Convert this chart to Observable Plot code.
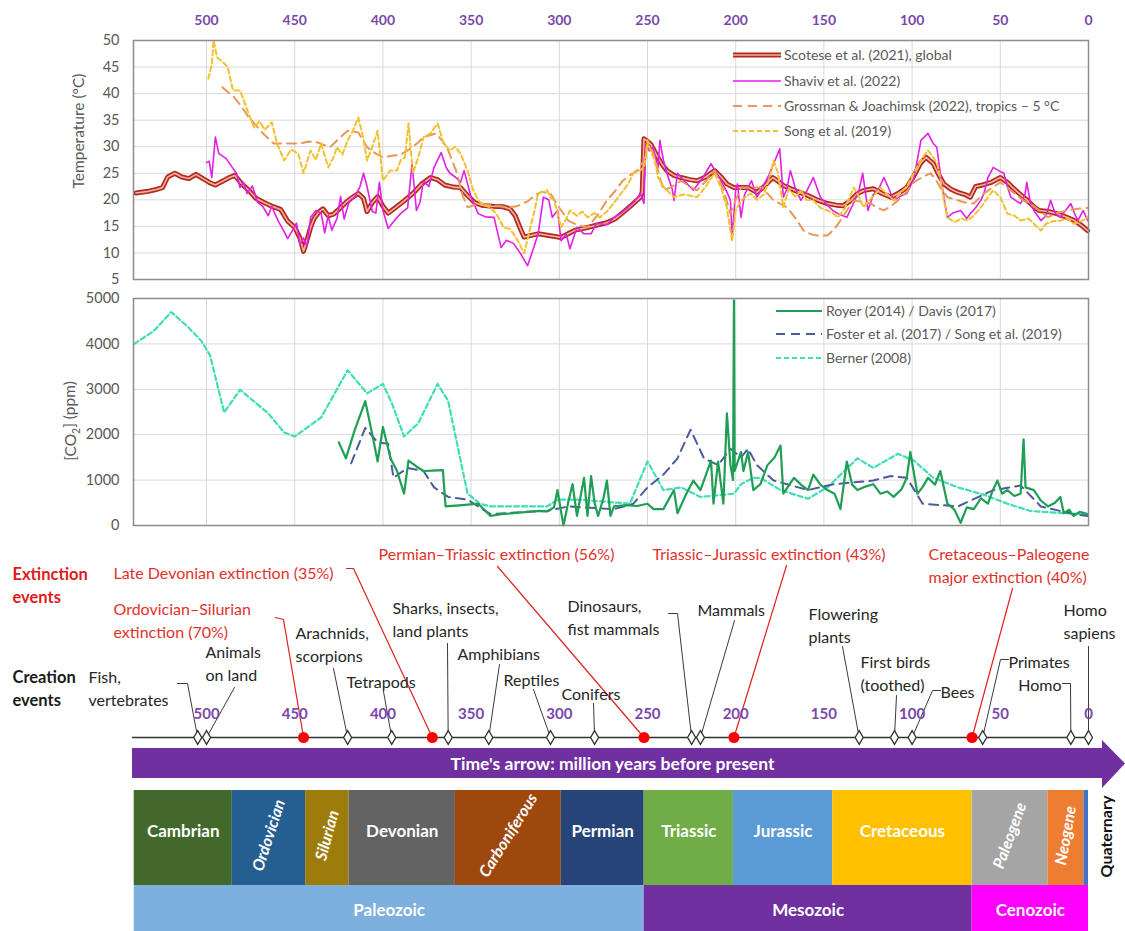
<!DOCTYPE html>
<html>
<head>
<meta charset="utf-8">
<script src="https://cdn.jsdelivr.net/npm/d3@7"></script>
<script src="https://cdn.jsdelivr.net/npm/@observablehq/plot@0.6"></script>
<style>
  html, body { margin: 0; padding: 0; background: #fff; overflow: hidden; }
  #wrap { position: relative; width: 1125px; height: 931px; overflow: hidden; background: #fff; }
  #wrap svg { position: absolute; left: 0; }
</style>
</head>
<body>
<div id="wrap"></div>
<script>
// ---------------- DATA ----------------
const xTicks = [0, 50, 100, 150, 200, 250, 300, 350, 400, 450, 500];
const tempTicks = [5, 10, 15, 20, 25, 30, 35, 40, 45, 50];
const co2Ticks = [0, 1000, 2000, 3000, 4000, 5000];

// Temperature (°C) series, [Ma, value]
const scotese = [[540,21.3],[533,21.6],[528,22.0],[525,22.3],[522,24.3],[518,25.0],[514,24.3],[510,24.0],[506,24.8],[502,24.0],[498,23.2],[495,22.8],[491,23.5],[487,24.2],[484,24.6],[480,23.0],[476,21.8],[472,20.3],[468,19.6],[463,18.8],[458,18.2],[454,16.0],[450,14.8],[447,12.8],[445,10.3],[443,12.5],[441,14.8],[439,16.5],[436,17.8],[434,18.3],[431,17.0],[428,17.3],[425,18.2],[421,19.5],[418,20.3],[414,21.2],[411,20.3],[409,17.8],[406,19.5],[403,20.6],[400,18.8],[397,17.5],[393,18.5],[388,19.8],[383,21.2],[378,23.0],[373,24.2],[369,23.8],[365,22.8],[360,22.4],[356,22.3],[352,20.8],[348,19.5],[344,19.0],[338,18.8],[332,18.7],[328,18.3],[325,17.0],[322,14.5],[320,13.0],[316,13.3],[312,13.6],[306,13.3],[299,12.9],[295,13.6],[291,14.3],[284,14.8],[278,15.3],[273,15.7],[268,16.5],[264,17.6],[259,19.0],[254,20.5],[253,21.5],[252,31.5],[250,31.0],[248,30.4],[245,28.5],[242,26.8],[239,25.5],[235,24.6],[231,24.2],[226,23.8],[222,23.6],[217,24.3],[212,25.5],[208,24.2],[205,23.0],[201,22.3],[197,22.3],[193,22.3],[188,21.4],[184,22.5],[179,24.2],[176,23.5],[173,22.7],[168,22.0],[163,21.3],[159,20.8],[154,20.0],[148,19.3],[143,19.0],[139,18.9],[135,19.8],[131,21.2],[127,21.8],[122,22.1],[117,21.2],[112,20.5],[108,21.2],[103,22.3],[99,24.5],[95,27.0],[92,28.0],[88,26.8],[85,24.8],[82,23.0],[78,22.0],[74,21.4],[70,21.0],[67,20.5],[64,22.5],[60,22.8],[55,23.3],[50,24.2],[46,23.3],[43,22.3],[40,21.4],[35,20.0],[31,18.7],[28,18.0],[23,17.8],[18,17.4],[13,16.8],[8,16.1],[4,15.2],[0.5,14.2]];

const shaviv = [[500,27.0],[498.5,27.3],[497,24.2],[495,31.8],[493,28.7],[489,27.8],[486,26.4],[483,25.0],[481,22.3],[479,23.3],[477,21.2],[474,22.6],[471,19.5],[468,18.7],[465,17.0],[463,18.8],[461,17.2],[459,15.8],[456,14.0],[454,12.7],[451,14.4],[449,15.6],[447,11.6],[445,12.8],[443,11.2],[441,16.7],[438,18.0],[435,17.5],[433,13.8],[431,17.0],[429,14.3],[426,16.5],[424,20.6],[422,16.4],[419,19.8],[416,20.5],[413,22.5],[411,25.0],[409,22.5],[406,17.8],[404,17.5],[402,23.3],[400,18.0],[397,14.6],[393,16.3],[390,17.4],[386,18.5],[383.5,26.8],[381,18.0],[379,19.5],[377,23.6],[374,22.5],[371,26.1],[367,28.9],[364,26.0],[362,25.0],[359,24.3],[356,23.3],[354,25.5],[350,20.5],[346,17.4],[342,16.8],[337,16.7],[333,11.0],[330,12.4],[326,11.8],[322,9.9],[318,7.6],[315,10.5],[312,13.6],[309,20.5],[306,20.0],[304,16.7],[301,18.0],[299,12.3],[296,13.5],[294,10.8],[290,14.8],[286,13.6],[282,13.6],[279,15.5],[277,15.5],[273,15.3],[269,16.7],[265,17.5],[261,18.6],[257,19.8],[254,21.2],[252,19.3],[251,30.6],[249,29.2],[247,29.9],[244,26.1],[243,31.2],[241,27.5],[239,25.0],[236,22.0],[235,19.9],[233,25.0],[229,23.5],[224,21.8],[219,24.0],[214,26.8],[209,24.0],[205,21.5],[203,19.9],[202,12.9],[200,22.0],[199,23.0],[197,16.7],[195,21.0],[193,22.3],[191,23.6],[188,20.5],[184,22.8],[181,24.8],[178.5,26.8],[175,29.6],[173,20.5],[171,22.0],[169,25.5],[166,22.0],[163,19.9],[160,21.5],[156,24.2],[152,20.5],[148,19.0],[145,18.0],[142,17.4],[137,16.7],[133,19.5],[130,22.0],[128,25.0],[125,18.0],[122,21.0],[119,22.0],[116,24.2],[113,22.0],[110.5,19.9],[106,20.8],[103,21.2],[99,24.0],[95,31.2],[91,32.5],[88,30.6],[86,29.9],[84,25.0],[82,20.5],[80,16.7],[77,17.5],[72.5,18.0],[69,16.5],[67,17.4],[64,18.5],[61,19.9],[59,21.5],[57,24.2],[54,26.1],[51,25.5],[48,25.0],[46,22.5],[44,20.5],[41,19.8],[38.5,19.3],[36,21.0],[35,23.3],[33,19.5],[31,18.0],[27,16.1],[24,17.0],[21.5,19.9],[19,17.5],[16,16.7],[13,18.0],[10,19.3],[8,17.5],[6,16.1],[3,18.0],[0.5,16.1]];

const grossman = [[491,41.2],[488,40.3],[485,39.6],[480,37.5],[476,35.5],[473,34.4],[468,32.5],[462,30.6],[455,30.6],[447,30.6],[442,31.0],[437,30.8],[430,29.9],[425,31.5],[420,33.0],[414,32.7],[409,29.9],[404,28.7],[400,28.0],[395,28.3],[390,28.5],[385,29.5],[380,30.8],[377,31.8],[370,32.5],[366,31.0],[363,29.3],[358,25.0],[355,21.0],[352,18.6],[348,19.0],[345,19.3],[338,19.0],[329,18.6],[324,18.8],[318,19.7],[314,20.8],[310,21.5],[305,21.2],[300,18.5],[295,16.1],[290,15.3],[284,14.8],[278,17.3],[273,19.9],[268,21.8],[264,23.6],[260,24.6],[256,25.5],[252,27.4],[250,30.6],[247,29.0],[244,25.5],[241,21.8],[236,22.5],[231,23.6],[226,22.5],[222,21.8],[217,23.5],[212,25.5],[207,22.0],[203,17.4],[200,20.0],[197,22.3],[191,22.3],[185,22.3],[178.5,19.9],[171,18.6],[166,16.5],[161.5,14.2],[157,13.5],[154,13.3],[148,13.3],[144,14.5],[140.6,16.1],[137,18.0],[133,19.9],[128,19.6],[123.6,19.3],[120,18.6],[116,18.0],[112,18.8],[108,19.9],[103,21.5],[99,23.3],[94,24.3],[89.6,25.0],[87,24.0],[84,22.3],[80,20.5],[75,20.0],[70,19.5],[65,19.3],[60,21.0],[55,22.2],[50,23.3],[45,22.0],[41,21.0],[37,19.9],[32,19.0],[27,17.8],[23,16.7],[18,17.5],[12,18.0],[6,18.3],[0.5,18.5]];

const song = [[499,42.8],[497,45.5],[496,50.0],[494,46.8],[491,46.0],[488,45.0],[485,40.6],[481,40.6],[477,37.0],[473,33.6],[470,34.8],[467,33.2],[463,34.6],[460,30.6],[456,27.4],[452,29.5],[448,28.7],[445,25.0],[441,29.3],[438,27.5],[435,30.6],[431,26.1],[428,28.0],[426,29.9],[423,28.5],[420,31.2],[417,33.0],[414,35.5],[411,31.5],[409,27.4],[406,30.0],[403,33.0],[400,23.6],[396,25.5],[392,25.5],[390,27.4],[387.5,28.0],[385.5,34.4],[383,25.0],[380,28.0],[377,31.8],[373,32.5],[369,34.4],[365.6,30.6],[362,29.3],[359,30.0],[356,28.7],[352,25.5],[349,22.0],[346,19.9],[343,19.0],[339,18.6],[335,17.0],[331.6,14.8],[328,14.5],[326,13.6],[323,12.0],[320,9.9],[317,14.0],[314,18.0],[312,21.2],[309,21.5],[307,21.8],[305,20.5],[303,19.9],[301,17.5],[299,14.8],[296,16.5],[294,18.0],[290,17.0],[287,17.8],[284,16.7],[280,17.5],[277,16.7],[273,17.8],[270,19.0],[265,21.2],[261,23.0],[258,25.0],[254,25.6],[252,26.1],[251,28.0],[250,31.2],[248,29.0],[246,27.5],[244,24.2],[241,22.5],[238,21.5],[235,20.5],[230,21.0],[226,20.8],[222,20.5],[217,22.5],[212,25.0],[208,22.0],[205,18.5],[203,14.2],[202,12.3],[200,18.0],[197,19.9],[191.6,21.2],[188,20.0],[184,21.0],[181,24.0],[178.5,27.4],[176,25.0],[173,18.6],[170,22.0],[166,20.5],[163,21.8],[160,20.0],[156,19.9],[152,18.5],[148,18.0],[145,17.5],[142,16.7],[138,18.5],[133,22.3],[130,20.5],[127.5,18.6],[124,20.0],[121,21.0],[118,22.3],[114,21.0],[110.5,19.9],[106,21.5],[103,22.5],[99,25.0],[95,27.5],[91,29.3],[88,28.0],[86,27.0],[84,24.2],[82,20.0],[80,16.7],[76,15.8],[72,16.5],[68.6,16.1],[65,17.0],[61,18.6],[57,20.5],[54,21.8],[50,20.5],[46,17.4],[42,17.0],[38.5,16.1],[34,16.5],[31,15.5],[27,14.2],[24,15.5],[20,16.0],[16,16.1],[12,16.5],[8.5,15.5],[4,16.0],[0.5,16.7]];

// CO2 (ppm) series, [Ma, value]
const royer = [[425,1830],[421,1480],[416,2100],[410,2740],[406,2000],[403,1410],[400,2170],[395.7,1480],[392,1200],[388,700],[385.5,1430],[381,1300],[377,1200],[372,1210],[366,1220],[364.5,420],[355,450],[346,480],[339,210],[333,250],[326,270],[318,300],[312,320],[307,310],[303,400],[301,780],[299,300],[297.6,0],[295,500],[292.5,910],[290,210],[286,1050],[284,210],[282,1090],[280,500],[278,210],[275,600],[273,990],[271,210],[269,420],[262,450],[256,430],[250,480],[246.6,360],[241,360],[235,780],[233,270],[228,700],[224,990],[220,780],[214,1430],[212.6,480],[210,1410],[207,480],[205,2470],[203,1330],[201.5,1000],[201,4960],[200.6,1200],[197,1620],[195.6,1200],[193,1620],[190,780],[186,910],[182,1330],[178,1500],[174.6,1760],[173,700],[167,1050],[163,900],[159,780],[156,1120],[152,900],[148,780],[144,700],[140.6,360],[137,1410],[134,900],[131,780],[127,850],[122,910],[118,700],[114,750],[110.5,630],[106,800],[103,1050],[101,1620],[97,700],[94,850],[91,1050],[87,900],[84,1200],[80,480],[76,350],[72.5,60],[69,400],[65,360],[61,600],[57,480],[54,800],[51.6,990],[49,700],[46,780],[42,650],[38.5,700],[36.8,1900],[35.7,840],[31,780],[27,550],[23,420],[19,500],[16,630],[14,270],[11,350],[8.5,210],[5,300],[0.5,250]];

const foster = [[418,1370],[410,2150],[403,1830],[397,1800],[394,1050],[386,1270],[377,1200],[371,840],[363,630],[352,570],[339,250],[320,300],[307,320],[295,420],[269,360],[258,480],[250,840],[241,1120],[233,1480],[225.6,2110],[218,1480],[210,1330],[203,1690],[197,1500],[193,1690],[188,1330],[178.5,990],[159,780],[144.6,910],[122,990],[112,1090],[103,1050],[94,480],[74,420],[54,780],[38.5,880],[27,420],[8.5,250],[0.5,210]];

const berner = [[541,4000],[530,4280],[520,4700],[511,4390],[503,4070],[498,3750],[490,2490],[481,2990],[465,2470],[456,2050],[450,1960],[435,2380],[420,3420],[409,2910],[400,3120],[395,2700],[388,1960],[380,2250],[369,3120],[363,2740],[352,700],[345,480],[339,420],[307,420],[301,570],[288,570],[260,480],[250,1410],[241,780],[231,840],[220,630],[201,700],[197,910],[190,1050],[186,1050],[174.6,780],[159,590],[148,840],[131,1480],[122,1270],[108,1580],[99,1430],[88,1050],[74,840],[59.5,680],[46,480],[33,320],[17.6,280],[0.5,250]];

// Events
const creationNames = ["Fish,\nvertebrates","Animals\non land","Arachnids,\nscorpions","Tetrapods","Sharks, insects,\nland plants","Amphibians","Reptiles","Conifers","Dinosaurs,\nfist mammals","Mammals","Flowering\nplants","First birds\n(toothed)","Bees","Primates","Homo","Homo\nsapiens"];
const creationMa = [505, 500, 420, 395, 363, 340, 305, 280, 225, 220, 130, 110, 100, 60, 10, 0];
const extinctionNames = ["Ordovician–Silurian\nextinction (70%)","Late Devonian extinction (35%)","Permian–Triassic extinction (56%)","Triassic–Jurassic extinction (43%)","Cretaceous–Paleogene\nmajor extinction (40%)"];
const extinctionMa = [445, 372, 252, 201, 66];

// Geological time scale
const periodNames = ["Cambrian","Ordovician","Silurian","Devonian","Carboniferous","Permian","Triassic","Jurassic","Cretaceous","Paleogene","Neogene","Quaternary"];
const periodStart = [541, 485.4, 443.8, 419.2, 358.9, 298.9, 251.9, 201.3, 145, 66, 23, 2.58];
const periodEnd = [485.4, 443.8, 419.2, 358.9, 298.9, 251.9, 201.3, 145, 66, 23, 2.58, 0];
const eraNames = ["Paleozoic","Mesozoic","Cenozoic"];
const eraStart = [541, 251.9, 66];
const eraEnd = [251.9, 66, 0];

// ---------------- STYLE / LAYOUT ----------------
const FONT = "Lato, 'Open Sans', 'DejaVu Sans', sans-serif";
const PURPLE_TXT = "#7A48AC";
const GRAY = "#595959";
const X_DOMAIN = [541.4, 0];
const X_RANGE = [133, 1088];
const pxToMa = d3.scaleLinear().domain(X_RANGE).range(X_DOMAIN);
const fmt = d => String(d);
const LABEL_FS = 16;

const periodColors = ["#43682B","#255E91","#9E7C0C","#636363","#9E480E","#264478","#70AD47","#5B9BD5","#FFC000","#A5A5A5","#ED7D31","#4472C4"];
const periodAngles = [0,-72,-75,0,-58,0,0,0,0,-70,-80,0];
const eraColors = ["#7EB0DE","#7030A0","#FF00FF"];

// label layout: [left px, first-line center y px, anchor]
const creationLabelPos = [[88,675],[205,650],[295,631],[346,680],[392,606],[457,652],[503,678],[561,692],[567,604],[697,608],[808,612],[860,660],[940,690],[1008,660],[1061,683,"end"],[1063,608]];
const creationLeaderPx = [
  [[177,683],[187,683]], [[234,687]], [[333,668]], [[383,691]], [[447,643]], [[499,664]], [[533,689]], [[593,703]],
  [[668,613],[677,613]], [[734,620]], [[842,646]], [[896,695]], [[940,690],[932,690]], [[1008,659],[1000,659]],
  [[1062,683],[1070,683]], [[1088,646]]
];
const extinctionLabelPos = [[113,607],[113,571],[378,552],[652,552],[928,552]];
const extinctionLeaderPx = [[[275,617],[283,619]], [[346,568],[353,568]], [[497,566]], [[786,565]], [[1012,588]]];
const LINE_Y = 737;
const LH = 23;

const wrap = document.getElementById("wrap");

// ---------------- TEMPERATURE PANEL ----------------
const tempSeries = [
  {label: "Scotese et al. (2021), global", data: scotese, stroke: "#B02A1E", width: 5, inner: "#F7B0A2"},
  {label: "Shaviv et al. (2022)", data: shaviv, stroke: "#E41FE4", width: 1.6},
  {label: "Grossman & Joachimsk (2022), tropics – 5 °C", data: grossman, stroke: "#E8975A", width: 2, dash: "9,6"},
  {label: "Song et al. (2019)", data: song, stroke: "#F2C12E", width: 2, dash: "5,3"}
];

const tempPlot = Plot.plot({
  width: 1125, height: 290,
  marginTop: 40, marginBottom: 11, marginLeft: 133, marginRight: 37,
  x: {domain: X_DOMAIN, range: X_RANGE},
  y: {domain: [5, 50]},
  style: {fontFamily: FONT, background: "transparent", overflow: "visible"},
  marks: [
    Plot.gridX({ticks: xTicks, stroke: "#d9d9d9", strokeOpacity: 1}),
    Plot.gridY({ticks: tempTicks, stroke: "#d9d9d9", strokeOpacity: 1}),
    ...tempSeries.flatMap(s => {
      const m = [Plot.line(s.data, {x: d => d[0], y: d => d[1], stroke: s.stroke, strokeWidth: s.width, strokeDasharray: s.dash, strokeLinejoin: "round"})];
      if (s.inner) m.push(Plot.line(s.data, {x: d => d[0], y: d => d[1], stroke: s.inner, strokeWidth: 1.6, strokeLinejoin: "round"}));
      return m;
    }),
    Plot.frame({stroke: "#8c8c8c", strokeWidth: 1.5}),
    Plot.axisX({ticks: xTicks, tickFormat: fmt, anchor: "top", tickSize: 0, tickPadding: 16, color: PURPLE_TXT, fontWeight: "bold", fontSize: 14, label: null}),
    Plot.axisY({ticks: tempTicks, tickFormat: fmt, anchor: "left", tickSize: 0, tickPadding: 14, color: GRAY, fontSize: 14.5, label: null})
  ]
});
tempPlot.style.top = "0px";
wrap.appendChild(tempPlot);

// ---------------- CO2 PANEL ----------------
const co2Series = [
  {label: "Royer (2014) / Davis (2017)", data: royer, stroke: "#1F9E55", width: 2.2},
  {label: "Foster et al. (2017) / Song et al. (2019)", data: foster, stroke: "#4C5B9C", width: 2, dash: "9,6"},
  {label: "Berner (2008)", data: berner, stroke: "#3EDFB5", width: 2.2, dash: "5,3"}
];
const co2Order = [2, 1, 0];

const co2Plot = Plot.plot({
  width: 1125, height: 250,
  marginTop: 8, marginBottom: 15, marginLeft: 133, marginRight: 37,
  x: {domain: X_DOMAIN, range: X_RANGE, axis: null},
  y: {domain: [0, 5000]},
  style: {fontFamily: FONT, background: "transparent", overflow: "visible"},
  marks: [
    Plot.gridX({ticks: xTicks, stroke: "#d9d9d9", strokeOpacity: 1}),
    Plot.gridY({ticks: co2Ticks, stroke: "#d9d9d9", strokeOpacity: 1}),
    ...co2Order.map(i => {
      const s = co2Series[i];
      return Plot.line(s.data, {x: d => d[0], y: d => d[1], stroke: s.stroke, strokeWidth: s.width, strokeDasharray: s.dash, strokeLinejoin: "round"});
    }),
    Plot.frame({stroke: "#8c8c8c", strokeWidth: 1.5}),
    Plot.axisY({ticks: co2Ticks, tickFormat: fmt, anchor: "left", tickSize: 0, tickPadding: 14, color: GRAY, fontSize: 14.5, label: null})
  ]
});
co2Plot.style.top = "290px";
wrap.appendChild(co2Plot);

// ---------------- legends & axis titles ----------------
function drawLegend(svg, items, sx0, sx1, tx, ys) {
  const g = d3.select(svg).append("g").attr("font-family", FONT).attr("font-size", 14).attr("fill", GRAY).attr("text-anchor", "start");
  items.forEach((it, i) => {
    const y = ys[i];
    g.append("line").attr("x1", sx0).attr("x2", sx1).attr("y1", y).attr("y2", y)
      .attr("stroke", it.stroke).attr("stroke-width", it.width).attr("stroke-dasharray", it.dash || null);
    if (it.inner) g.append("line").attr("x1", sx0).attr("x2", sx1).attr("y1", y).attr("y2", y)
      .attr("stroke", it.inner).attr("stroke-width", 1.6);
    g.append("text").attr("x", tx).attr("y", y).attr("dy", "0.35em").attr("text-anchor", "start").text(it.label);
  });
}
drawLegend(tempPlot, tempSeries, 733, 781, 784, [55, 81, 106, 131]);
drawLegend(co2Plot, co2Series, 776, 822, 826, [21, 44, 68]);

function axisTitle(svg, x, y) {
  return d3.select(svg).append("text")
    .attr("transform", `translate(${x},${y}) rotate(-90)`)
    .attr("text-anchor", "middle").attr("dy", "0.35em")
    .attr("font-family", FONT).attr("font-size", 15.5).attr("fill", GRAY);
}
axisTitle(tempPlot, 79, 131).text("Temperature (°C)");
const ct = axisTitle(co2Plot, 71, 131);
ct.append("tspan").text("[CO");
ct.append("tspan").attr("font-size", 10.5).attr("dy", "0.35em").text("2");
ct.append("tspan").attr("dy", "-0.35em").text("] (ppm)");

// ---------------- TIMELINE PANEL ----------------
const periods = periodNames.map((name, i) => ({name, start: periodStart[i], end: periodEnd[i], color: periodColors[i], angle: periodAngles[i]}));
const eras = eraNames.map((name, i) => ({name, start: eraStart[i], end: eraEnd[i], color: eraColors[i]}));
const creation = creationNames.map((name, i) => ({name, ma: creationMa[i], px: creationLabelPos[i][0], py: creationLabelPos[i][1], anchor: creationLabelPos[i][2] || "start"}));
const extinction = extinctionNames.map((name, i) => ({name, ma: extinctionMa[i], px: extinctionLabelPos[i][0], py: extinctionLabelPos[i][1]}));

function leaderPoints(events, leaders) {
  const pts = [];
  events.forEach((e, i) => {
    leaders[i].forEach(([px, py]) => pts.push({id: i, x: pxToMa(px), y: py}));
    pts.push({id: i, x: e.ma, y: LINE_Y});
  });
  return pts;
}
const labelY = d => d.py + (d.name.split("\n").length - 1) * LH / 2;

const horizPeriods = periods.filter(p => p.angle === 0 && p.name !== "Quaternary");
const rotPeriods = periods.filter(p => p.angle !== 0);

const timeline = Plot.plot({
  width: 1125, height: 391,
  marginTop: 0, marginBottom: 0, marginLeft: 0, marginRight: 0,
  x: {domain: X_DOMAIN, range: X_RANGE, axis: null},
  y: {domain: [540, 931], range: [0, 391], axis: null},
  color: {type: "identity"},
  style: {fontFamily: FONT, background: "transparent", overflow: "visible"},
  marks: [
    // headers
    Plot.text(["Extinction\nevents"], {x: pxToMa(12), y: 572 + LH / 2, text: d => d, textAnchor: "start", fill: "#E01B1B", fontWeight: "bold", fontSize: 16.5, lineHeight: LH / 16.5}),
    Plot.text(["Creation\nevents"], {x: pxToMa(12), y: 675 + LH / 2, text: d => d, textAnchor: "start", fill: "#1a1a1a", fontWeight: "bold", fontSize: 16.5, lineHeight: LH / 16.5}),
    // leaders
    Plot.line(leaderPoints(creation, creationLeaderPx), {x: "x", y: "y", z: "id", stroke: "#3a3a3a", strokeWidth: 1}),
    Plot.line(leaderPoints(extinction, extinctionLeaderPx), {x: "x", y: "y", z: "id", stroke: "#E02020", strokeWidth: 1.2}),
    // labels
    Plot.text(creation.filter(d => d.anchor === "start"), {x: d => pxToMa(d.px), y: labelY, text: "name", textAnchor: "start", fill: "#262626", fontSize: LABEL_FS, lineHeight: LH / LABEL_FS}),
    Plot.text(creation.filter(d => d.anchor === "end"), {x: d => pxToMa(d.px), y: labelY, text: "name", textAnchor: "end", fill: "#262626", fontSize: LABEL_FS, lineHeight: LH / LABEL_FS}),
    Plot.text(extinction, {x: d => pxToMa(d.px), y: labelY, text: "name", textAnchor: "start", fill: "#E2312B", fontSize: LABEL_FS, lineHeight: LH / LABEL_FS}),
    // tick labels
    Plot.text(xTicks, {x: d => d, y: 714, text: fmt, fill: PURPLE_TXT, fontWeight: "bold", fontSize: 15}),
    // time line
    Plot.ruleY([LINE_Y], {x1: pxToMa(132), x2: pxToMa(1091), stroke: "#333", strokeWidth: 1.3}),
    Plot.dot(creation, {x: "ma", y: LINE_Y, symbol: "diamond", r: 4.2, fill: "white", stroke: "#333", strokeWidth: 1.3}),
    Plot.dot(extinction, {x: "ma", y: LINE_Y, r: 5.5, fill: "#FF0000"}),
    // time's arrow
    Plot.rect([0], {x1: pxToMa(132), x2: pxToMa(1103), y1: 748, y2: 778, fill: "#7030A0"}),
    Plot.areaY([{x: pxToMa(1102), a: 740, b: 788}, {x: pxToMa(1125), a: 763.5, b: 763.5}], {x: "x", y1: "a", y2: "b", fill: "#7030A0"}),
    Plot.text(["Time's arrow: million years before present"], {x: pxToMa(612), y: 764, text: d => d, fill: "white", fontWeight: "bold", fontSize: 17.5}),
    // periods and eras
    Plot.rect(periods, {x1: "start", x2: "end", y1: 790, y2: 885, fill: "color"}),
    Plot.rect(eras, {x1: "start", x2: "end", y1: 885, y2: 931, fill: "color"}),
    Plot.text(horizPeriods, {x: d => (d.start + d.end) / 2, y: 831, text: "name", fill: "white", fontWeight: "bold", fontSize: 17}),
    Plot.text(rotPeriods, {x: d => (d.start + d.end) / 2, y: 835, text: "name", rotate: "angle", fill: "white", fontWeight: "bold", fontStyle: "italic", fontSize: 16}),
    Plot.text(periods.filter(p => p.name === "Quaternary"), {x: pxToMa(1106), y: 836, text: "name", rotate: -90, fill: "#111", fontWeight: "bold", fontSize: 16}),
    Plot.text(eras, {x: d => (d.start + d.end) / 2, y: 910, text: "name", fill: "white", fontWeight: "bold", fontSize: 17})
  ]
});
timeline.style.top = "540px";
wrap.appendChild(timeline);
</script>
</body>
</html>
